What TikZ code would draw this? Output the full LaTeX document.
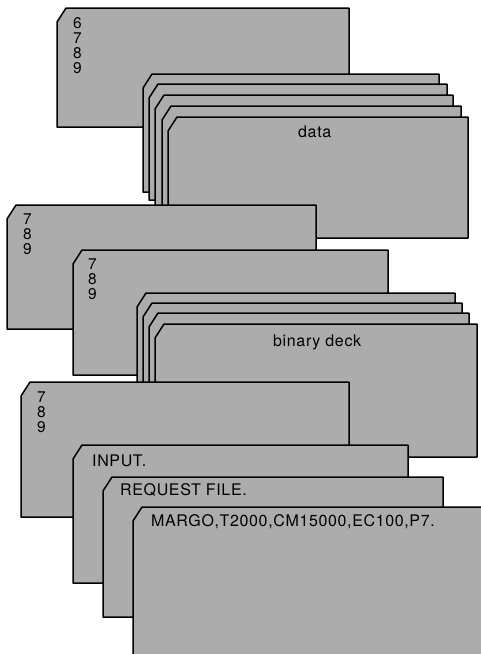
\documentclass[tikz,border=0pt]{standalone}
\usepackage{fontspec}
\setmainfont{TeX Gyre Heros}
\definecolor{cardgray}{RGB}{172,172,172}
\newcommand\punchcard[4]{\filldraw[cardstyle] (#1+9,#2) -- (#3,#2) -- (#3,#4) -- (#1,#4) -- (#1,#2+14) -- cycle;}
\begin{document}
\begin{tikzpicture}[x=1pt,y=-1pt,
  cardstyle/.style={fill=cardgray,draw=black,line width=1.5pt,line join=round},
  digits/.style={anchor=north west,inner sep=0pt,align=left,font={\fontsize{15.5}{15}\selectfont}},
  label/.style={anchor=base west,inner sep=0pt,font={\fontsize{16}{18}\selectfont\addfontfeature{LetterSpace=4}}}]
\useasboundingbox (0,0) rectangle (481,654);
\begin{scope}
\clip (0,0) rectangle (481,654);
% first 6-7-8-9 card
\punchcard{57}{8}{349}{127}
\node[digits] (c1) at (73,17.5) {6\\7\\8\\9};
% data deck
\punchcard{143}{74}{439}{192}
\punchcard{149}{84}{447}{200}
\punchcard{155}{95}{453}{212}
\punchcard{162}{106}{461}{224}
\punchcard{168}{117}{468}{238}
\node[label] (data) at (298,137.5) {data};
% 7-8-9 cards
\punchcard{7}{205}{316}{329}
\node[digits] (c2) at (23,214) {7\\8\\9};
\punchcard{73}{250}{388}{375}
\node[digits] (c3) at (88,259) {7\\8\\9};
% binary deck
\punchcard{137}{293}{455}{420}
\punchcard{143}{303}{462}{430}
\punchcard{149}{313}{469}{440}
\punchcard{155}{324}{477}{457}
\node[label] (bin) at (273,346) {binary deck};
% last 7-8-9 card
\punchcard{21}{382}{349}{517}
\node[digits] (c4) at (37,392) {7\\8\\9};
% control cards
\punchcard{73}{445}{408}{583}
\node[label] (inp) at (92,466) {INPUT.};
\punchcard{103}{477}{443}{617}
\node[label] (req) at (120,495) {REQUEST FILE.};
\punchcard{133}{507}{500}{680}
\node[label] (margo) at (151,526) {MARGO,T2000,CM15000,EC100,P7.};
\end{scope}
\end{tikzpicture}
\end{document}
